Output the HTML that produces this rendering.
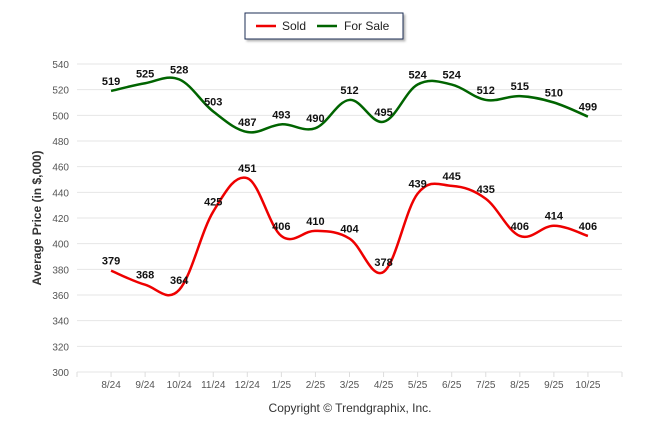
<!DOCTYPE html>
<html><head><meta charset="utf-8"><style>
body{margin:0;background:#fff;font-family:"Liberation Sans",sans-serif}
svg text{font-family:"Liberation Sans",sans-serif}
</style></head><body>
<svg id="c" width="646" height="434" viewBox="0 0 646 434">
<defs><filter id="sh" x="-10%" y="-10%" width="130%" height="150%"><feDropShadow dx="2" dy="2" stdDeviation="1" flood-color="#888" flood-opacity="0.6"/></filter></defs>
<g>
<rect x="245" y="13" width="158" height="26" fill="#fff" stroke="#1f2d55" stroke-width="1" filter="url(#sh)"/>
<line x1="256" y1="26" x2="276" y2="26" stroke="#e00" stroke-width="2.5"/>
<text x="282" y="30" font-size="12" fill="#222">Sold</text>
<line x1="317" y1="26" x2="337" y2="26" stroke="#006400" stroke-width="2.5"/>
<text x="344" y="30" font-size="12" fill="#222">For Sale</text>
</g>
<text transform="translate(41,218) rotate(-90)" text-anchor="middle" font-size="12" font-weight="bold" fill="#333">Average Price (in $,000)</text>
<g id="grid"></g><g id="series"></g>
<text x="350" y="412" text-anchor="middle" font-size="12" fill="#333">Copyright © Trendgraphix, Inc.</text>
</svg>
<script>
const categories=["8/24","9/24","10/24","11/24","12/24","1/25","2/25","3/25","4/25","5/25","6/25","7/25","8/25","9/25","10/25"];
const soldValues=[379,368,364,425,451,406,410,404,378,439,445,435,406,414,406];
const forSaleValues=[519,525,528,503,487,493,490,512,495,524,524,512,515,510,499];
const yTicks=[300,320,340,360,380,400,420,440,460,480,500,520,540];
const NS="http://www.w3.org/2000/svg";
const x0=77,x1=622,yTop=64,yBot=372,yMin=300,yMax=540;
const step=(x1-x0)/(categories.length+1);
const xs=i=>x0+step*(i+1);
const ys=v=>yBot-(v-yMin)/(yMax-yMin)*(yBot-yTop);
function mk(t,a,p){const e=document.createElementNS(NS,t);for(const k in a)e.setAttribute(k,a[k]);p.appendChild(e);return e;}
const g=document.getElementById('grid'),s=document.getElementById('series');
yTicks.forEach(v=>{
 const l=mk('line',{x1:x0,x2:x1,y1:ys(v),y2:ys(v),stroke:'#e6e6e6','stroke-width':1},g);
 
 
 const t=mk('text',{x:x0-8,y:ys(v)+4,'text-anchor':'end','font-size':10,fill:'#555'},g);
 t.textContent=v;
 
 
});
for(let i=0;i<=categories.length+1;i++){const l=mk('line',{x1:x0+step*i,x2:x0+step*i,y1:yBot,y2:yBot+5,stroke:'#ddd'},g);
 
 }
categories.forEach((c,i)=>{const t=mk('text',{x:xs(i),y:388,'text-anchor':'middle','font-size':10,fill:'#555'},g);t.textContent=c;
 
 });
function path(vals){const p=vals.map((v,i)=>[xs(i),ys(v)]);let d=`M${p[0][0]},${p[0][1]}`;
 for(let i=0;i<p.length-1;i++){const a=p[i-1]||p[i],b=p[i],c=p[i+1],e=p[i+2]||c;const k=0.18;
 d+=` C${b[0]+(c[0]-a[0])*k},${b[1]+(c[1]-a[1])*k} ${c[0]-(e[0]-b[0])*k},${c[1]-(e[1]-b[1])*k} ${c[0]},${c[1]}`;}return d;}
function series(vals,color,name){
 const p=mk('path',{d:path(vals),fill:'none',stroke:color,'stroke-width':2.5},s);
 
 
 vals.forEach((v,i)=>{const t=mk('text',{x:xs(i),y:ys(v)-6,'text-anchor':'middle','font-size':11,'font-weight':'bold',fill:'#111'},s);t.textContent=v;
 
 });
}
series(forSaleValues,'#006400','for-sale');
series(soldValues,'#e00','sold');
</script>
</body></html>
